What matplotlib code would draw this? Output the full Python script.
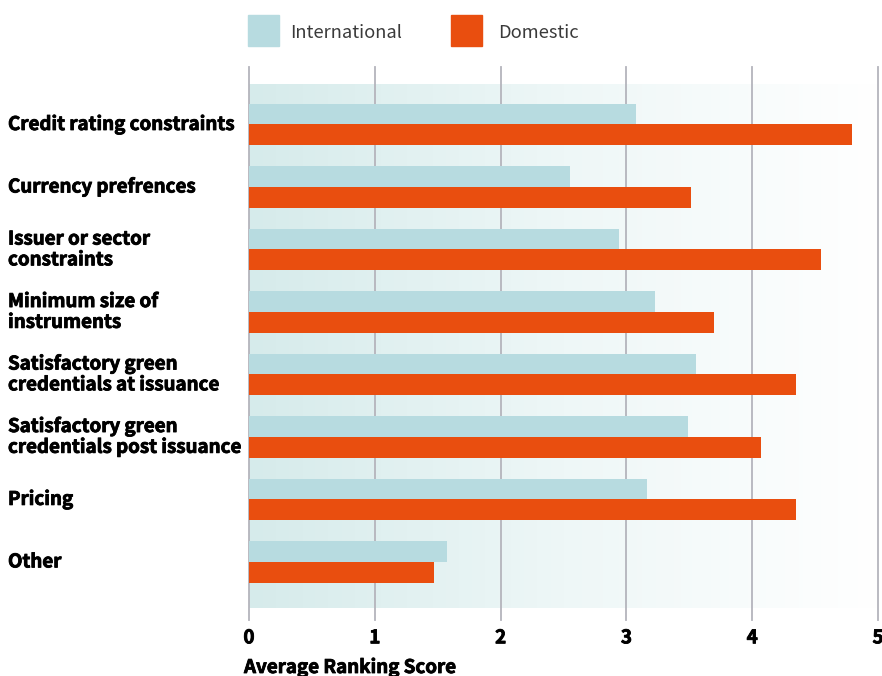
import numpy as np
import matplotlib.pyplot as plt
import matplotlib.patheffects as pe
from matplotlib.colors import LinearSegmentedColormap

categories = [
    "Credit rating constraints",
    "Currency prefrences",
    "Issuer or sector\nconstraints",
    "Minimum size of\ninstruments",
    "Satisfactory green\ncredentials at issuance",
    "Satisfactory green\ncredentials post issuance",
    "Pricing",
    "Other",
]
international = [3.08, 2.55, 2.94, 3.23, 3.55, 3.49, 3.16, 1.57]
domestic = [4.79, 3.51, 4.55, 3.70, 4.35, 4.07, 4.35, 1.47]
ticks = [0, 1, 2, 3, 4, 5]

INTL = "#b7dbe0"
DOM = "#e94e0f"

plt.rcParams["font.family"] = ["Noto Sans CJK SC", "DejaVu Sans"]
heavy = [pe.withStroke(linewidth=0.6, foreground="black")]

fig = plt.figure(figsize=(8.82, 6.76), dpi=100)
ax = fig.add_axes([249 / 882, 1 - 620 / 676, 629 / 882, 553 / 676])

y = np.arange(len(categories))
h = 0.33

# soft teal-to-white band behind the bars
cmap = LinearSegmentedColormap.from_list("band", ["#d6ebeb", "#eef7f7", "#ffffff"])
grad = np.linspace(0, 1, 256).reshape(1, -1)
ax.imshow(grad, cmap=cmap, aspect="auto", extent=(0, 5, 7.74, -0.63), zorder=0)

for t in ticks:
    ax.axvline(t, color="#b4b4bc", lw=1.3, zorder=1, clip_on=False)

ax.barh(y - h / 2, international, height=h, color=INTL, zorder=2)
ax.barh(y + h / 2, domestic, height=h, color=DOM, zorder=2)

ax.set_xlim(0, 5)
ax.set_ylim(7.93, -0.92)
for s in ax.spines.values():
    s.set_visible(False)
ax.set_yticks([])
ax.set_xticks(ticks)
ax.set_xticklabels([str(t) for t in ticks], fontsize=13.5, fontweight="bold")
for tl in ax.get_xticklabels():
    tl.set_path_effects(heavy)
ax.tick_params(axis="x", length=0, pad=6)

for yi, lab in zip(y, categories):
    ax.text(-241 / 125.8, yi, lab, ha="left", va="center", fontsize=13.5,
            fontweight="bold", linespacing=1.12, color="#000000",
            path_effects=heavy)

ax.set_xlabel("Average Ranking Score", fontsize=13.5, fontweight="bold",
              path_effects=heavy)
ax.xaxis.set_label_coords(-5 / 629, -38 / 553)
ax.xaxis.label.set_horizontalalignment("left")

# legend drawn as squares with labels
fig.patches.append(plt.Rectangle((248 / 882, 1 - 46 / 676), 31 / 882, 31 / 676,
                                 transform=fig.transFigure, color=INTL))
fig.text(290 / 882, 1 - 33 / 676, "International", fontsize=13.2, color="#3a3a3a",
         va="center", ha="left", fontweight="light")
fig.patches.append(plt.Rectangle((451 / 882, 1 - 46 / 676), 31 / 882, 31 / 676,
                                 transform=fig.transFigure, color=DOM))
fig.text(498 / 882, 1 - 33 / 676, "Domestic", fontsize=13.2, color="#3a3a3a",
         va="center", ha="left", fontweight="light")

fig.savefig("out.png", dpi=100)
